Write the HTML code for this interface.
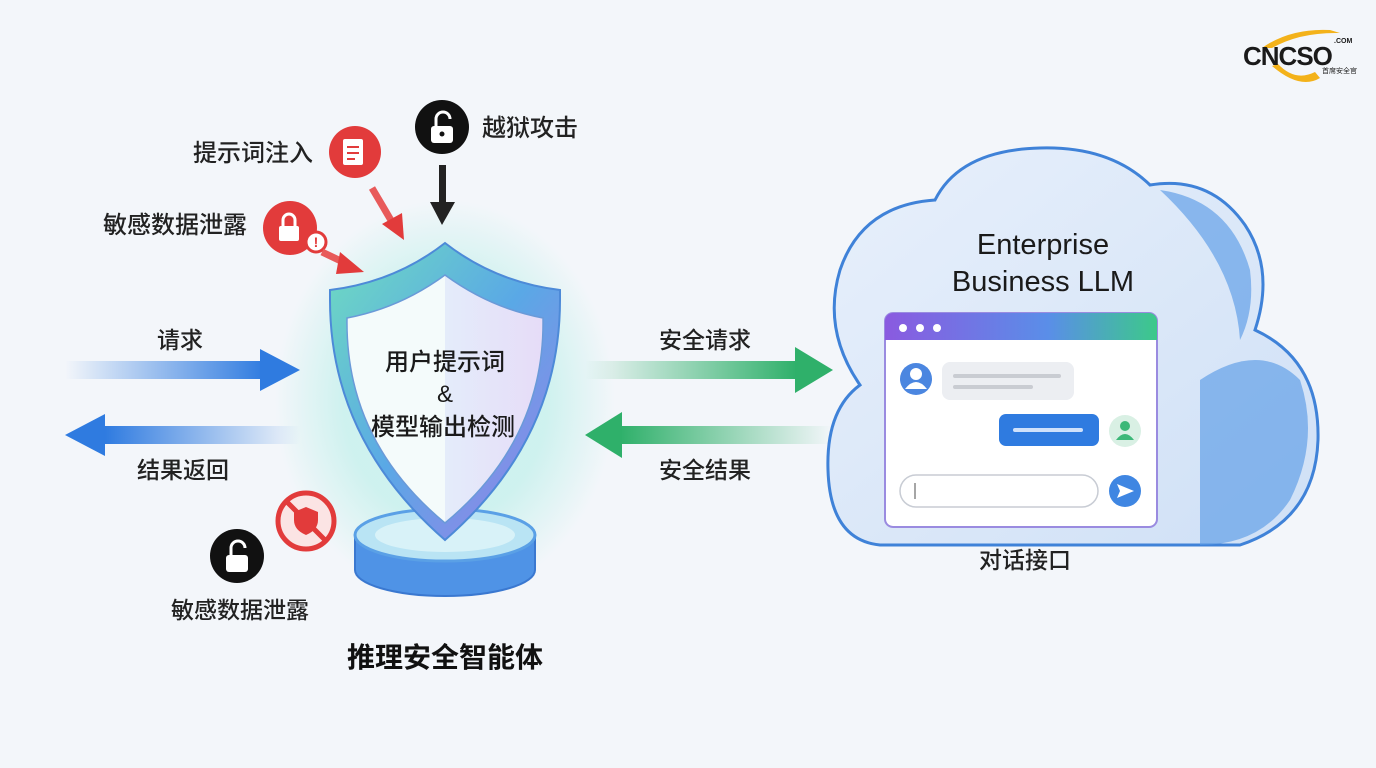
<!DOCTYPE html>
<html><head><meta charset="utf-8"><style>
html,body{margin:0;padding:0;width:1376px;height:768px;overflow:hidden;background:#f3f6fa;}
svg text{font-family:"Liberation Sans","Noto Sans CJK SC",sans-serif;}
</style></head><body>
<svg width="1376" height="768" viewBox="0 0 1376 768" xmlns="http://www.w3.org/2000/svg">
<defs>
<linearGradient id="bl" x1="0" x2="1"><stop offset="0" stop-color="#2f7be0" stop-opacity="0"/><stop offset="1" stop-color="#2f7be0"/></linearGradient>
<linearGradient id="blr" x1="1" x2="0"><stop offset="0" stop-color="#2f7be0" stop-opacity="0"/><stop offset="1" stop-color="#2f7be0"/></linearGradient>
<linearGradient id="gr" x1="0" x2="1"><stop offset="0" stop-color="#2fb06a" stop-opacity="0"/><stop offset="1" stop-color="#2fb06a"/></linearGradient>
<linearGradient id="grr" x1="1" x2="0"><stop offset="0" stop-color="#2fb06a" stop-opacity="0"/><stop offset="1" stop-color="#2fb06a"/></linearGradient>
<linearGradient id="sh" x1="0" x2="1" y1="0" y2="1"><stop offset="0" stop-color="#6fdcc0"/><stop offset="0.5" stop-color="#5aa8e6"/><stop offset="1" stop-color="#a07be8"/></linearGradient>
<linearGradient id="shi" x1="0" x2="1"><stop offset="0.5" stop-color="#f4fbfb"/><stop offset="0.5" stop-color="#e4ecfa"/><stop offset="1" stop-color="#e6dcf8"/></linearGradient>
<linearGradient id="hdr" x1="0" x2="1"><stop offset="0" stop-color="#8a5ae0"/><stop offset="0.6" stop-color="#5a8ee8"/><stop offset="1" stop-color="#3cc98a"/></linearGradient>
<linearGradient id="cl" x1="0" x2="1" y1="0" y2="1"><stop offset="0" stop-color="#e8f0fb"/><stop offset="1" stop-color="#cfe0f6"/></linearGradient>
<radialGradient id="glow"><stop offset="0.6" stop-color="#bff0ea" stop-opacity="0.7"/><stop offset="1" stop-color="#bff0ea" stop-opacity="0"/></radialGradient>
</defs>

<ellipse cx="445" cy="400" rx="170" ry="200" fill="url(#glow)"/>

<rect x="65" y="361" width="200" height="18" fill="url(#bl)"/>
<polygon points="260,349 300,370 260,391" fill="#2f7be0"/>
<rect x="105" y="426" width="195" height="18" fill="url(#blr)"/>
<polygon points="105,414 65,435 105,456" fill="#2f7be0"/>
<text x="180" y="348" font-size="23" font-weight="500" text-anchor="middle" fill="#222">请求</text>
<text x="183" y="478" font-size="23" font-weight="500" text-anchor="middle" fill="#222">结果返回</text>

<rect x="585" y="361" width="212" height="18" fill="url(#gr)"/>
<polygon points="795,347 833,370 795,393" fill="#2fb06a"/>
<rect x="620" y="426" width="212" height="18" fill="url(#grr)"/>
<polygon points="622,412 585,435 622,458" fill="#2fb06a"/>
<text x="705" y="348" font-size="23" font-weight="500" text-anchor="middle" fill="#222">安全请求</text>
<text x="705" y="478" font-size="23" font-weight="500" text-anchor="middle" fill="#222">安全结果</text>

<path d="M355,535 L355,570 A90,26 0 0 0 535,570 L535,535 Z" fill="#4f93e6" stroke="#3a78d0" stroke-width="2"/>
<ellipse cx="445" cy="535" rx="90" ry="26" fill="#b9e4f4" stroke="#5aa0e6" stroke-width="3"/>
<ellipse cx="445" cy="535" rx="70" ry="17" fill="#d8f2f8"/>

<path d="M445,243 Q395,282 330,290 L330,300 Q330,440 445,540 Q560,440 560,300 L560,290 Q495,282 445,243 Z" fill="url(#sh)" stroke="#4d8ad8" stroke-width="2"/>
<path d="M445,275 Q400,308 347,318 Q345,440 445,523 Q545,440 543,318 Q490,308 445,275 Z" fill="url(#shi)" stroke="#6a9ad8" stroke-width="1.5"/>
<text x="445" y="370" font-size="24" font-weight="500" text-anchor="middle" fill="#1a1a1a">用户提示词</text>
<text x="445" y="402" font-size="24" text-anchor="middle" fill="#1a1a1a">&amp;</text>
<text x="443" y="435" font-size="24" font-weight="500" text-anchor="middle" fill="#1a1a1a">模型输出检测</text>

<circle cx="442" cy="127" r="27" fill="#111"/>
<rect x="431" y="126" width="22" height="17" rx="3" fill="#fff"/>
<path d="M436,126 v-7 a7,7 0 0 1 14,0" fill="none" stroke="#fff" stroke-width="3"/>
<circle cx="442" cy="134" r="2.5" fill="#111"/>
<text x="482" y="136" font-size="24" font-weight="500" fill="#222">越狱攻击</text>
<rect x="439" y="165" width="7" height="40" fill="#222"/>
<polygon points="430,202 455,202 442,225" fill="#222"/>

<circle cx="355" cy="152" r="26" fill="#e23b3b"/>
<rect x="343" y="139" width="20" height="26" rx="2" fill="#fff"/>
<line x1="347" y1="147" x2="359" y2="147" stroke="#e23b3b" stroke-width="2"/>
<line x1="347" y1="153" x2="359" y2="153" stroke="#e23b3b" stroke-width="2"/>
<line x1="347" y1="159" x2="355" y2="159" stroke="#e23b3b" stroke-width="2"/>
<text x="193" y="161" font-size="24" font-weight="500" fill="#222">提示词注入</text>
<line x1="372" y1="188" x2="392" y2="222" stroke="#e85a5a" stroke-width="7"/>
<polygon points="382,224 404,240 402,213" fill="#e23b3b"/>

<circle cx="290" cy="228" r="27" fill="#e23b3b"/>
<rect x="279" y="226" width="20" height="15" rx="2" fill="#fff"/>
<path d="M283,226 v-6 a6,6 0 0 1 12,0 v6" fill="none" stroke="#fff" stroke-width="3"/>
<circle cx="316" cy="242" r="10" fill="#fff" stroke="#e23b3b" stroke-width="3"/>
<text x="316" y="247" font-size="14" font-weight="bold" text-anchor="middle" fill="#e23b3b">!</text>
<text x="103" y="233" font-size="24" font-weight="500" fill="#222">敏感数据泄露</text>
<line x1="322" y1="252" x2="345" y2="263" stroke="#e85a5a" stroke-width="7"/>
<polygon points="340,252 364,272 336,274" fill="#e23b3b"/>

<circle cx="306" cy="521" r="28" fill="#fbe4e4" stroke="#e23b3b" stroke-width="5"/>
<path d="M306,507 l12,5 v8 q0,10 -12,15 q-12,-5 -12,-15 v-8 z" fill="#e23b3b"/>
<line x1="287" y1="502" x2="325" y2="540" stroke="#e23b3b" stroke-width="5"/>
<circle cx="237" cy="556" r="27" fill="#111"/>
<rect x="226" y="555" width="22" height="17" rx="3" fill="#fff"/>
<path d="M231,555 v-7 a7,7 0 0 1 14,0" fill="none" stroke="#fff" stroke-width="3"/>
<text x="240" y="618" font-size="23" font-weight="500" text-anchor="middle" fill="#222">敏感数据泄露</text>
<text x="445" y="667" font-size="28" font-weight="bold" text-anchor="middle" fill="#111">推理安全智能体</text>

<path d="M880,545 Q830,540 828,470 Q826,410 860,385 Q822,330 840,270 Q862,205 935,200 Q960,150 1040,148 Q1110,146 1150,185 Q1210,175 1245,225 Q1275,270 1255,330 Q1320,360 1318,440 Q1315,520 1240,545 Z" fill="url(#cl)" stroke="#3f82d8" stroke-width="3"/>
<path d="M1200,380 Q1260,340 1300,380 Q1320,440 1290,500 Q1260,545 1200,545 Z" fill="#5b9be6" opacity="0.65"/>
<path d="M1160,190 Q1230,200 1250,270 Q1255,310 1240,340 Q1235,260 1160,190 Z" fill="#5b9be6" opacity="0.65"/>
<text x="1043" y="254" font-size="29" font-weight="500" text-anchor="middle" fill="#1a1a1a">Enterprise</text>
<text x="1043" y="291" font-size="29" font-weight="500" text-anchor="middle" fill="#1a1a1a">Business LLM</text>

<rect x="885" y="313" width="272" height="214" rx="8" fill="#fff" stroke="#9a8be0" stroke-width="2"/>
<path d="M885,321 a8,8 0 0 1 8,-8 h256 a8,8 0 0 1 8,8 v19 h-272 z" fill="url(#hdr)"/>
<circle cx="903" cy="328" r="4" fill="#fff"/><circle cx="920" cy="328" r="4" fill="#fff"/><circle cx="937" cy="328" r="4" fill="#fff"/>
<circle cx="916" cy="379" r="16" fill="#4b86e0"/>
<circle cx="916" cy="374" r="6" fill="#fff"/><path d="M905,389 q11,-14 22,0" fill="#fff"/>
<rect x="942" y="362" width="132" height="38" rx="8" fill="#eceef2"/>
<rect x="953" y="374" width="108" height="4" rx="2" fill="#c9ccd2"/>
<rect x="953" y="385" width="80" height="4" rx="2" fill="#c9ccd2"/>
<rect x="999" y="414" width="100" height="32" rx="7" fill="#2f7be0"/>
<rect x="1013" y="428" width="70" height="4" rx="2" fill="#cfe1fb"/>
<circle cx="1125" cy="431" r="16" fill="#d9f0e4"/>
<circle cx="1125" cy="426" r="5" fill="#3cb878"/><path d="M1116,440 q9,-12 18,0" fill="#3cb878"/>
<rect x="900" y="475" width="198" height="32" rx="16" fill="#fff" stroke="#c8ccd4" stroke-width="1.5"/>
<line x1="915" y1="483" x2="915" y2="499" stroke="#888" stroke-width="1.5"/>
<circle cx="1125" cy="491" r="16" fill="#3f86e2"/>
<polygon points="1117,484 1134,491 1117,498 1120,491" fill="#fff"/>
<text x="1025" y="568" font-size="23" font-weight="500" text-anchor="middle" fill="#222">对话接口</text>

<path d="M1262,48 Q1290,28 1330,30 L1340,33 Q1300,32 1272,48 Z" fill="#f3b21a"/>
<path d="M1272,66 Q1300,90 1320,78 L1315,72 Q1295,82 1278,64 Z" fill="#f3b21a"/>
<text x="1243" y="65" font-size="26" font-weight="bold" fill="#1a1a1a" letter-spacing="-1">CNCSO</text>
<text x="1334" y="43" font-size="7" font-weight="bold" fill="#1a1a1a">.COM</text>
<text x="1322" y="73" font-size="7" fill="#1a1a1a">首席安全官</text>
</svg>
</body></html>
